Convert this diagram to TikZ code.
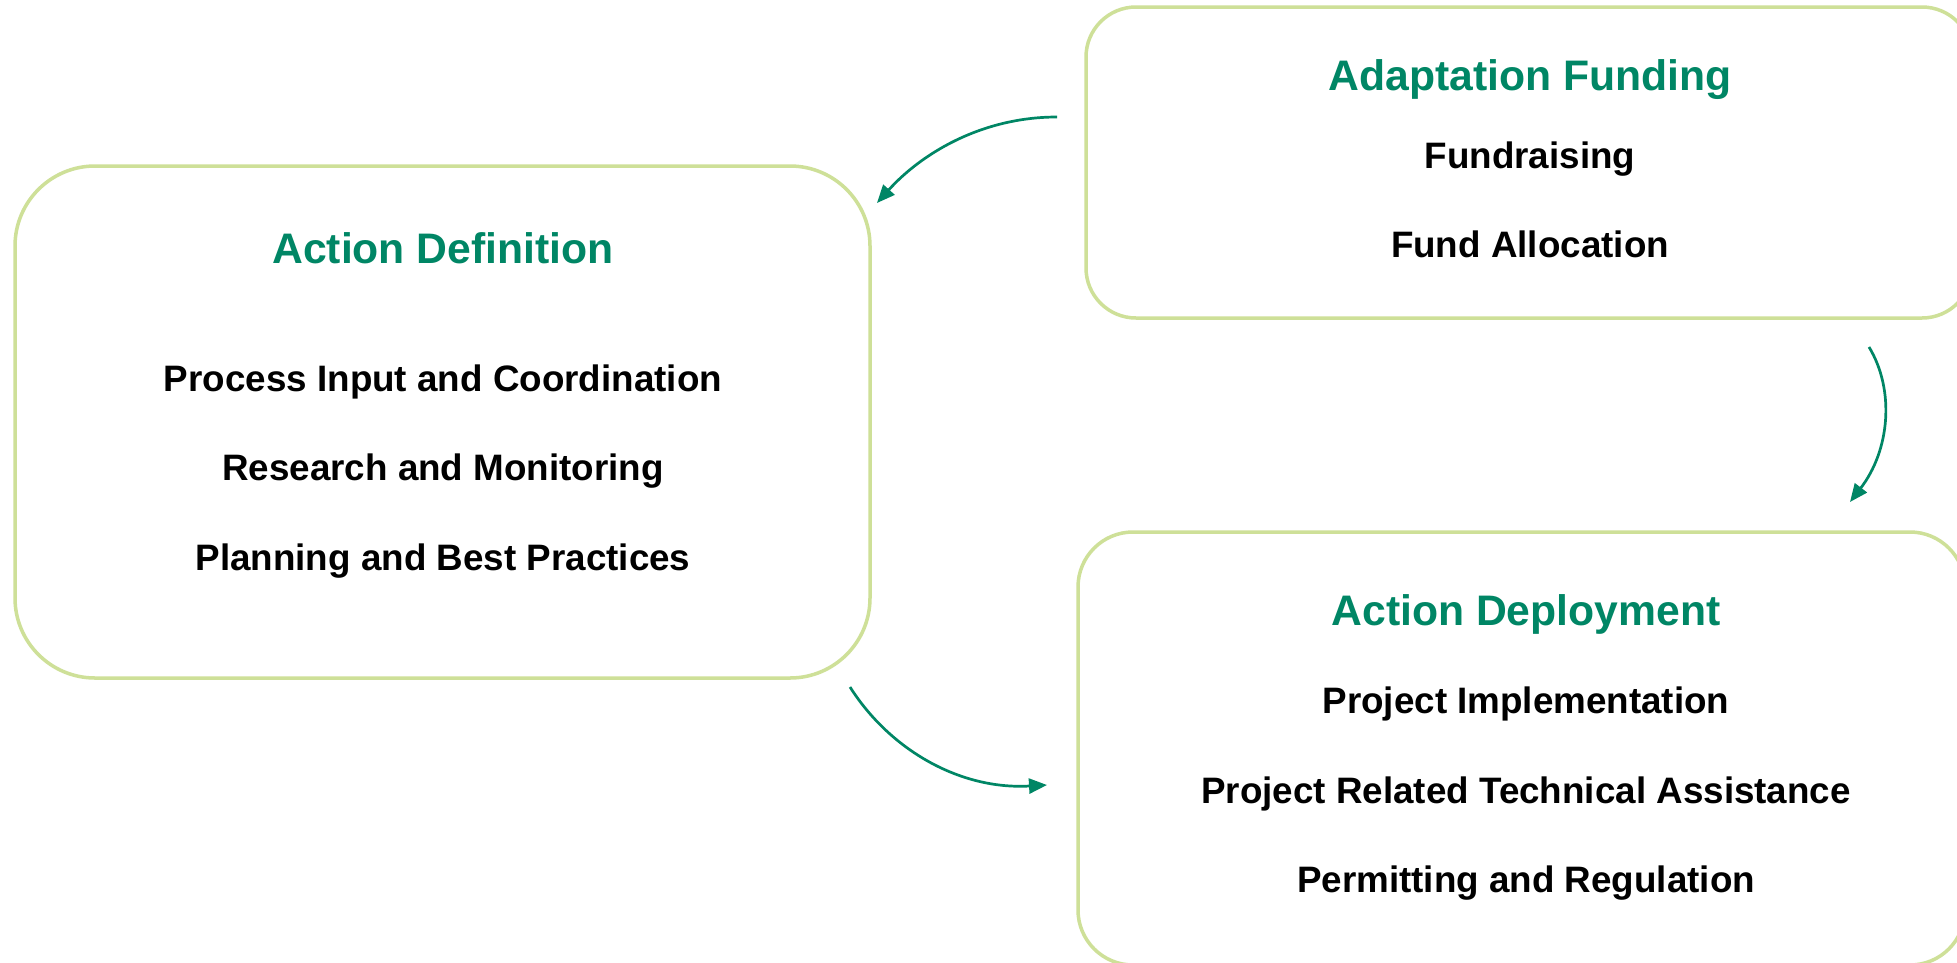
\documentclass[tikz,border=0pt]{standalone}
\usepackage{fontspec}
\setmainfont{Liberation Sans}
\usetikzlibrary{arrows.meta}
\definecolor{teal}{RGB}{0,134,101}
\definecolor{lime}{RGB}{206,224,152}
\tikzset{
  box/.style={draw=lime, line width=3.5pt, fill=white, inner sep=0pt},
  ttl/.style={anchor=base, inner sep=0pt, text=teal, font=\fontsize{42.7pt}{46pt}\selectfont\bfseries},
  itm/.style={anchor=base, inner sep=0pt, text=black, font=\fontsize{36.8pt}{40pt}\selectfont\bfseries},
  flow/.style={draw=teal, line width=2.7pt, -{Triangle[length=18pt,width=15pt]}}
}
\begin{document}
\begin{tikzpicture}[x=1pt,y=-1pt]
\useasboundingbox (0,0) rectangle (1957,962);
\clip (0,0) rectangle (1957,962);
\fill[white] (0,0) rectangle (1957,962);
% boxes
\node[box, minimum width=855pt, minimum height=512pt, rounded corners=80pt] (def) at (442.5,422) {};
\node[box, minimum width=886pt, minimum height=311pt, rounded corners=50pt] (fund) at (1529,162.5) {};
\node[box, minimum width=887pt, minimum height=433pt, rounded corners=55pt] (dep) at (1521.5,748.5) {};
% texts
\node[ttl] (defT) at (443,263.6) {Action Definition};
\node[itm] (def1) at (443,391) {Process Input and Coordination};
\node[itm] (def2) at (443,480.6) {Research and Monitoring};
\node[itm] (def3) at (443,570) {Planning and Best Practices};
\node[ttl] (fundT) at (1530,90) {Adaptation Funding};
\node[itm] (fund1) at (1530,168) {Fundraising};
\node[itm] (fund2) at (1530,257) {Fund Allocation};
\node[ttl] (depT) at (1526,625) {Action Deployment};
\node[itm] (dep1) at (1526,713) {Project Implementation};
\node[itm] (dep2) at (1526,803) {Project Related Technical Assistance};
\node[itm] (dep3) at (1526,892) {Permitting and Regulation};
% connector ends
\coordinate (a1s) at (1057,117);
\coordinate (a1e) at (877,203);
\coordinate (a2s) at (1869,347);
\coordinate (a2e) at (1850,502);
\coordinate (a3s) at (850,687);
\coordinate (a3e) at (1047,785);
\draw[flow] (a1s) .. controls (980,117) and (920,155) .. (a1e);
\draw[flow] (a2s) .. controls (1895,390) and (1890,450) .. (a2e);
\draw[flow] (a3s) .. controls (890,750) and (960,790) .. (a3e);
\end{tikzpicture}
\end{document}
